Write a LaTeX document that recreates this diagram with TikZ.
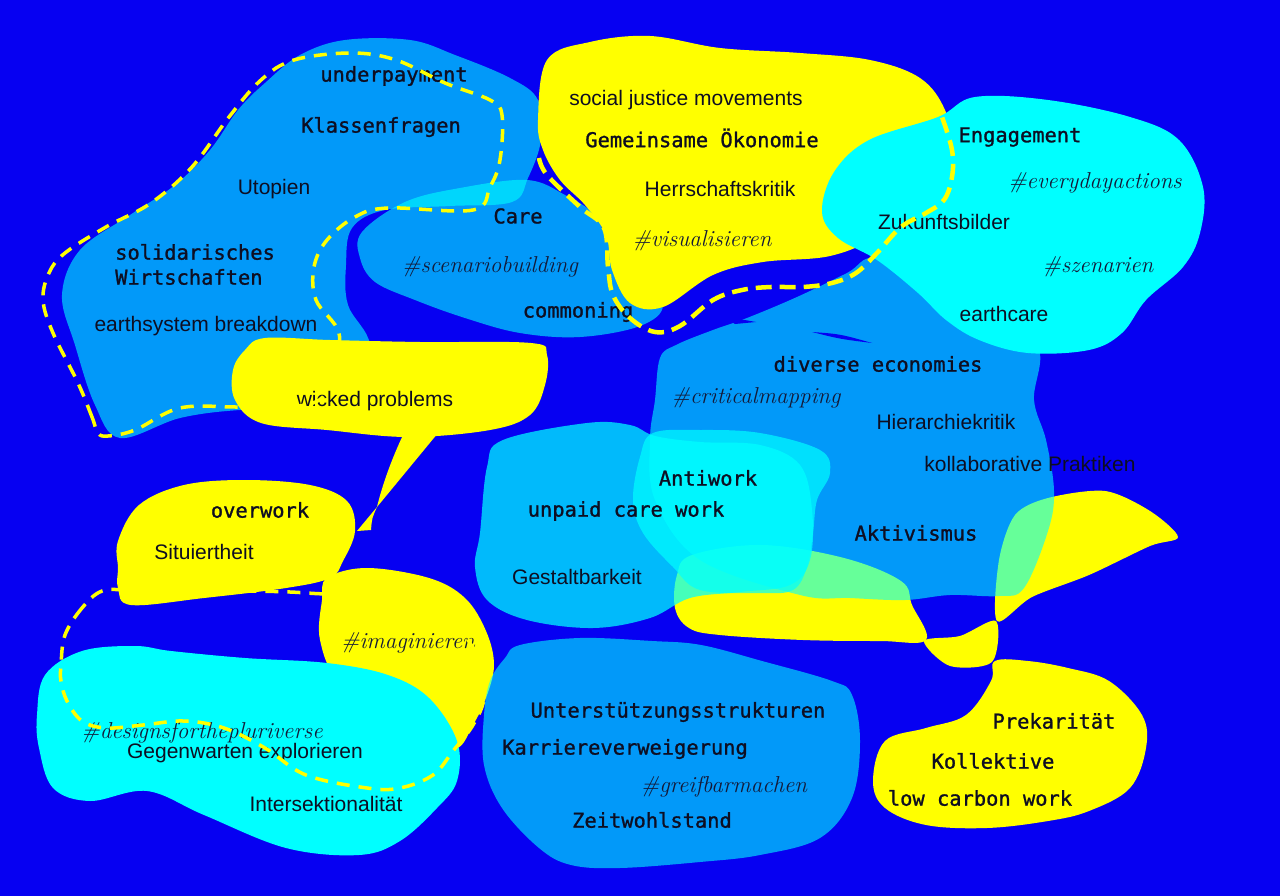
\documentclass[tikz,border=0pt]{standalone}
\usepackage{fontspec}
\setsansfont{Liberation Sans}
\newfontfamily\monomid{DejaVu Sans Mono}[FakeBold=1.2]
\usepackage{xcolor}
\usepackage{tikz}

\definecolor{bgblue}{RGB}{6,0,242}
\definecolor{sunyellow}{RGB}{255,255,0}
\definecolor{aqua}{RGB}{0,255,255}
\definecolor{inkdark}{RGB}{14,14,34}
\definecolor{taggray}{RGB}{20,26,56}

\begin{document}
\begin{tikzpicture}[x=1pt,y=-1pt,
    midblob/.style={fill=aqua,fill opacity=0.6},
    lightblob/.style={fill=aqua,fill opacity=0.73},
    veilblob/.style={fill=aqua,fill opacity=0.7},
    solidblob/.style={fill=aqua},
    sunblob/.style={fill=sunyellow},
    dashline/.style={draw=sunyellow,line width=3.5pt,dash pattern=on 13pt off 9pt},
    monolabel/.style={font=\monomid\fontsize{20.4}{25}\selectfont,text=inkdark,inner sep=0pt},
    sanslabel/.style={font=\sffamily\fontsize{21}{25}\selectfont,text=inkdark,inner sep=0pt},
    taglabel/.style={font=\itshape\fontsize{23}{26}\selectfont,text=taggray,inner sep=0pt}]
    \useasboundingbox (0,0) rectangle (1280,896);
    \fill[bgblue] (0,0) rectangle (1280,896);
    % yellow lobes under the middle blobs
    \fill[sunblob] plot[smooth cycle,tension=0.6] coordinates {(675,608) (677,575) (692,555) (762,545) (844,558) (901,581) (912,605) (926,640) (880,641) (803,640) (720,635) (689,628)};
    \fill[sunblob] plot[smooth cycle,tension=0.5] coordinates {(924,641) (960,636) (996,621) (992,662) (950,666)};
    \fill[sunblob] plot[smooth cycle,tension=0.5] coordinates {(997,621) (999,560) (1015,515) (1048,498) (1105,491) (1150,511) (1178,537) (1150,546) (1089,575) (1032,597)};
    % upper left blobs
    \fill[midblob] plot[smooth cycle,tension=0.6] coordinates {(265,83) (300,55) (345,40) (410,40) (455,55) (510,78) (538,100) (541,140) (528,178) (512,202) (450,206) (385,210) (352,228) (346,265) (348,305) (370,345) (360,400) (300,410) (240,410) (180,418) (120,438) (95,405) (75,345) (62,295) (80,250) (130,215) (175,185) (210,150) (238,110)};
    \fill[midblob] plot[smooth cycle,tension=0.6] coordinates {(362,232) (405,202) (460,188) (527,180) (565,195) (595,215) (610,245) (640,272) (663,305) (640,326) (580,337) (520,333) (465,318) (415,300) (375,282) (360,258)};
    \fill[sunblob] plot[smooth cycle,tension=0.6] coordinates {(547,60) (590,42) (650,36) (720,48) (800,53) (870,60) (920,78) (945,110) (952,150) (935,195) (880,235) (830,256) (763,262) (713,275) (663,307) (630,303) (612,270) (606,235) (585,205) (560,180) (543,150) (538,120)};
    \fill[solidblob] plot[smooth cycle,tension=0.6] coordinates {(822,212) (834,172) (869,140) (938,117) (975,97) (1048,100) (1130,117) (1179,140) (1203,187) (1200,233) (1183,267) (1146,300) (1122,333) (1089,350) (1028,353) (979,340) (946,320) (918,293) (877,260) (838,238)};
    % middle blobs
    \fill[midblob] plot[smooth cycle,tension=0.6] coordinates {(655,400) (660,358) (676,345) (713,330) (747,318) (797,297) (847,273) (875,258) (930,285) (990,322) (1038,348) (1034,400) (1046,440) (1054,491) (1048,531) (1024,588) (999,596) (950,595) (905,600) (850,598) (800,595) (700,560) (655,500) (650,440)};
    \fill[bgblue] (812,332) .. controls (840,334) .. (872,343) .. controls (840,339) .. cycle;
    \fill[bgblue] (722,316) -- (756,322) -- (735,324) -- cycle;
    \fill[lightblob] plot[smooth cycle,tension=0.6] coordinates {(587,423) (630,425) (655,436) (700,442) (760,445) (800,465) (812,510) (810,560) (790,585) (740,592) (690,598) (650,618) (593,628) (527,620) (487,600) (475,567) (480,533) (487,467) (503,440)};
    \fill[veilblob] plot[smooth cycle,tension=0.6] coordinates {(653,433) (700,430) (760,433) (820,450) (830,473) (817,500) (813,533) (807,567) (793,590) (760,593) (700,590) (673,567) (643,533) (633,500) (640,457)};
    % speech bubble and lower left blobs
    \fill[sunblob] plot[smooth cycle,tension=0.6] coordinates {(265,338) (330,340) (420,342) (531,343) (547,355) (545,385) (530,415) (490,430) (408,437) (327,430) (261,423) (235,400) (233,370) (245,350)};
    \fill[sunblob] (404,433) .. controls (390,462) and (381,490) .. (377,507) -- (438,433) -- cycle;
    \fill[sunblob] (377,507) .. controls (372,518) .. (371,530) -- (357,531) -- cycle;
    \fill[sunblob] plot[smooth cycle,tension=0.6] coordinates {(118,568) (118,541) (139,505) (184,485) (245,480) (310,485) (347,501) (355,531) (343,561) (330,578) (286,588) (204,598) (131,605) (118,588)};
    \fill[sunblob] plot[smooth cycle,tension=0.6] coordinates {(327,578) (367,568) (429,578) (465,598) (486,631) (494,665) (486,698) (473,725) (457,748) (430,735) (400,700) (340,680) (320,640) (322,600)};
    \fill[solidblob] plot[smooth cycle,tension=0.6] coordinates {(37,715) (45,675) (82,651) (135,646) (171,651) (245,658) (327,663) (388,675) (429,698) (457,741) (457,781) (437,808) (400,841) (359,855) (286,848) (204,815) (147,791) (90,801) (53,788) (39,748)};
    \fill[midblob] plot[smooth cycle,tension=0.6] coordinates {(520,645) (580,638) (652,641) (701,645) (762,661) (832,681) (852,695) (860,741) (852,798) (820,838) (760,855) (700,862) (620,868) (571,865) (539,848) (502,808) (484,765) (484,715) (490,681) (505,658)};
    \fill[sunblob] plot[smooth cycle,tension=0.6] coordinates {(995,661) (991,681) (966,715) (926,728) (885,741) (873,781) (885,808) (926,825) (987,828) (1048,821) (1089,811) (1130,788) (1146,748) (1142,715) (1109,681) (1068,668) (1028,661)};
    % labels
    \node[monolabel] (underpay) at (394,76) {underpayment};
    \node[monolabel] (klassen) at (381,127) {Klassenfragen};
    \node[sanslabel] (utopien) at (274,189) {Utopien};
    \node[monolabel,anchor=west] (solid) at (115,252) {solidarisches};
    \node[monolabel,anchor=west] (wirt) at (115,277) {Wirtschaften};
    \node[sanslabel] (earth) at (206,326) {earthsystem breakdown};
    \node[sanslabel] (wicked) at (375,401) {wicked problems};
    \node[sanslabel] (social) at (686,100) {social justice movements};
    \node[monolabel] (gemein) at (702,138) {Gemeinsame Ökonomie};
    \node[sanslabel] (herrsch) at (720,189) {Herrschaftskritik};
    \node[taglabel] (visual) at (702,241) {\#visualisieren};
    \node[monolabel] (care) at (518,216) {Care};
    \node[taglabel] (scenario) at (490,267) {\#scenariobuilding};
    \node[monolabel] (common) at (578,312) {commoning};
    \node[monolabel] (engage) at (1020,137) {Engagement};
    \node[taglabel] (everyday) at (1095,183) {\#everydayactions};
    \node[sanslabel] (zukunft) at (944,222) {Zukunftsbilder};
    \node[taglabel] (szen) at (1098,267) {\#szenarien};
    \node[sanslabel] (earthcare) at (1004,314) {earthcare};
    \node[monolabel] (diverse) at (878,364) {diverse economies};
    \node[taglabel] (critical) at (756,398) {\#criticalmapping};
    \node[sanslabel] (hierarchie) at (946,422) {Hierarchiekritik};
    \node[sanslabel] (kollab) at (1030,464) {kollaborative Praktiken};
    \node[monolabel] (antiwork) at (708,478) {Antiwork};
    \node[monolabel] (unpaid) at (626,511) {unpaid care work};
    \node[monolabel] (aktiv) at (916,533) {Aktivismus};
    \node[sanslabel] (gestalt) at (577,577) {Gestaltbarkeit};
    \node[monolabel] (overwork) at (260,510) {overwork};
    \node[sanslabel] (situ) at (204,552) {Situiertheit};
    \node[taglabel] (imagin) at (408,643) {\#imaginieren};
    \node[taglabel] (designs) at (202,733) {\#designsforthepluriverse};
    \node[sanslabel] (gegen) at (245,753) {Gegenwarten explorieren};
    \node[sanslabel] (intersek) at (326,804) {Intersektionalität};
    \node[monolabel] (unterst) at (678,712) {Unterstützungsstrukturen};
    \node[monolabel] (karriere) at (625,749) {Karriereverweigerung};
    \node[taglabel] (greif) at (724,787) {\#greifbarmachen};
    \node[monolabel] (zeit) at (652,820) {Zeitwohlstand};
    \node[monolabel] (prekar) at (1054,721) {Prekarität};
    \node[monolabel] (kollekt) at (993,761) {Kollektive};
    \node[monolabel] (lowcarbon) at (980,798) {low carbon work};
    % dashed outlines
    \draw[dashline] plot[smooth cycle,tension=0.6] coordinates {(98,433) (92,417) (78,383) (53,333) (43,300) (49,273) (65,253) (106,227) (151,203) (192,167) (229,117) (261,80) (294,60) (351,53) (396,60) (445,83) (490,100) (502,115) (500,160) (490,187) (473,210) (388,208) (355,217) (327,240) (314,267) (316,300) (339,333) (333,370) (322,398) (290,407) (237,407) (180,408) (135,430) (108,436)};
    \draw[dashline,line width=4.5pt,dash pattern=on 16pt off 8pt] plot[smooth,tension=0.6] coordinates {(539,158) (547,175) (580,207) (604,228) (608,267) (613,295) (630,318) (655,332) (680,326) (713,300) (742,290) (771,287) (803,287) (832,283) (856,273) (877,253) (901,227) (926,213) (944,200) (952,177) (952,150) (942,117)};
    \draw[dashline] plot[smooth cycle,tension=0.6] coordinates {(102,591) (82,608) (65,635) (61,665) (61,681) (67,701) (82,721) (106,728) (143,725) (184,721) (224,728) (265,748) (306,775) (367,788) (400,788) (433,775) (453,751) (473,725) (484,698) (480,665) (470,643) (450,615) (420,598) (380,594) (327,594) (290,592) (250,591) (180,590) (130,590)};
\end{tikzpicture}
\end{document}
